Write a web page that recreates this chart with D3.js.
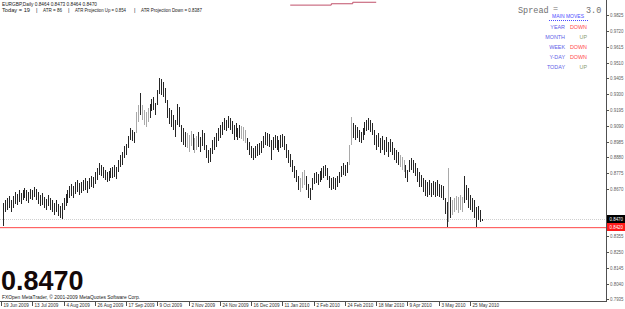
<!DOCTYPE html>
<html>
<head>
<meta charset="utf-8">
<script src="https://cdn.jsdelivr.net/npm/d3@7"></script>
<style>
  body { margin: 0; background: #fff; }
  svg text { font-family: "Liberation Sans", Arial, sans-serif; }
</style>
</head>
<body>
<div id="chart"></div>
<script>
// EURGBP daily
let symbolName = 'EURGBP,Daily'
let lastBar = [0.8464, 0.8473, 0.8464, 0.8470]
let infoParts = ['Today = 19', '|', 'ATR = 86', '|', 'ATR Projection Up = 0.854', '|', 'ATR Projection Down = 0.8387']

let highs = [
  0.8577, 0.8597, 0.8610, 0.8623, 0.8597, 0.8623, 0.8650, 0.8637, 0.8663, 0.8643,
  0.8663, 0.8677, 0.8663, 0.8650, 0.8670, 0.8663, 0.8683, 0.8670, 0.8650, 0.8630,
  0.8643, 0.8617, 0.8603, 0.8630, 0.8610, 0.8597, 0.8577, 0.8597, 0.8570, 0.8557,
  0.8577, 0.8610, 0.8637, 0.8663, 0.8690, 0.8703, 0.8690, 0.8716, 0.8730, 0.8710,
  0.8716,
  0.8730, 0.8743, 0.8723, 0.8743, 0.8756, 0.8750, 0.8783, 0.8809, 0.8843, 0.8829,
  0.8816, 0.8796, 0.8783, 0.8789, 0.8809, 0.8816, 0.8829, 0.8816, 0.8863, 0.8896,
  0.8916, 0.8956, 0.8969, 0.9022, 0.9075, 0.9062, 0.9049, 0.9182, 0.9228, 0.9308,
  0.9228, 0.9195, 0.9182, 0.9208, 0.9235, 0.9268, 0.9281, 0.9241, 0.9328, 0.9408,
  0.9401,
  0.9381, 0.9341, 0.9261, 0.9208, 0.9195, 0.9162, 0.9128, 0.9235, 0.9215, 0.9095,
  0.9075, 0.9049, 0.9042, 0.9029, 0.9055, 0.9035, 0.9009, 0.9022, 0.9049, 0.9016,
  0.9062, 0.9042, 0.8962, 0.8929, 0.8942, 0.8996, 0.9016, 0.9042, 0.9075, 0.9095,
  0.9115, 0.9142, 0.9128, 0.9155, 0.9142, 0.9122, 0.9095, 0.9109, 0.9075, 0.9095,
  0.9089,
  0.9082, 0.9062, 0.9009, 0.8982, 0.8956, 0.8942, 0.8956, 0.8969, 0.8976, 0.8989,
  0.9022, 0.9049, 0.9042, 0.9035, 0.8996, 0.9016, 0.9029, 0.9022, 0.8996, 0.9029,
  0.9035, 0.9022, 0.8969, 0.8929, 0.8902, 0.8863, 0.8823, 0.8796, 0.8756, 0.8743,
  0.8783, 0.8796, 0.8756, 0.8703, 0.8677, 0.8743, 0.8776, 0.8783, 0.8769, 0.8789,
  0.8809,
  0.8823, 0.8829, 0.8809, 0.8756, 0.8743, 0.8750, 0.8743, 0.8756, 0.8783, 0.8823,
  0.8843, 0.8829, 0.8849, 0.8962, 0.9148, 0.9109, 0.9095, 0.9082, 0.9062, 0.9049,
  0.9075, 0.9115, 0.9128, 0.9142, 0.9128, 0.9109, 0.9062, 0.9029, 0.9042, 0.9009,
  0.9022, 0.8996, 0.9016, 0.8982, 0.9002, 0.8982, 0.8942, 0.8929, 0.8916, 0.8896,
  0.8883,
  0.8863, 0.8829, 0.8796, 0.8863, 0.8876, 0.8863, 0.8843, 0.8809, 0.8783, 0.8763,
  0.8743, 0.8730, 0.8716, 0.8730, 0.8710, 0.8723, 0.8716, 0.8730, 0.8703, 0.8697,
  0.8690, 0.8610, 0.8583, 0.8809, 0.8617, 0.8597, 0.8610, 0.8623, 0.8617, 0.8630,
  0.8617, 0.8756, 0.8697, 0.8677, 0.8630,
  0.8610,
  0.8597, 0.8550, 0.8557, 0.8530, 0.8473
]

let lows = [
  0.8424, 0.8517, 0.8530, 0.8544, 0.8517, 0.8544, 0.8570, 0.8564, 0.8583, 0.8570,
  0.8597, 0.8610, 0.8590, 0.8577, 0.8603, 0.8597, 0.8617, 0.8597, 0.8570, 0.8557,
  0.8564, 0.8544, 0.8530, 0.8557, 0.8530, 0.8517, 0.8497, 0.8517, 0.8490, 0.8477,
  0.8470, 0.8530, 0.8557, 0.8577, 0.8610, 0.8623, 0.8610, 0.8637, 0.8650, 0.8630,
  0.8643,
  0.8657, 0.8663, 0.8643, 0.8670, 0.8683, 0.8677, 0.8703, 0.8730, 0.8763, 0.8756,
  0.8743, 0.8730, 0.8716, 0.8723, 0.8743, 0.8743, 0.8750, 0.8736, 0.8783, 0.8816,
  0.8829, 0.8876, 0.8896, 0.8942, 0.8996, 0.8989, 0.8976, 0.9042, 0.9115, 0.9162,
  0.9128, 0.9095, 0.9082, 0.9115, 0.9142, 0.9188, 0.9195, 0.9162, 0.9228, 0.9301,
  0.9295,
  0.9281, 0.9241, 0.9142, 0.9102, 0.9082, 0.9062, 0.9016, 0.9095, 0.9082, 0.8982,
  0.8962, 0.8949, 0.8942, 0.8916, 0.8956, 0.8929, 0.8909, 0.8929, 0.8949, 0.8916,
  0.8956, 0.8929, 0.8876, 0.8843, 0.8849, 0.8902, 0.8929, 0.8949, 0.8989, 0.9009,
  0.9029, 0.9062, 0.9055, 0.9075, 0.9062, 0.9035, 0.8996, 0.9016, 0.8996, 0.9009,
  0.9002,
  0.8989, 0.8976, 0.8929, 0.8896, 0.8876, 0.8863, 0.8876, 0.8889, 0.8896, 0.8909,
  0.8942, 0.8962, 0.8956, 0.8949, 0.8863, 0.8929, 0.8942, 0.8929, 0.8916, 0.8942,
  0.8949, 0.8929, 0.8876, 0.8843, 0.8816, 0.8783, 0.8743, 0.8716, 0.8663, 0.8650,
  0.8677, 0.8697, 0.8663, 0.8610, 0.8597, 0.8663, 0.8703, 0.8710, 0.8697, 0.8716,
  0.8730,
  0.8743, 0.8756, 0.8730, 0.8677, 0.8663, 0.8670, 0.8663, 0.8683, 0.8710, 0.8750,
  0.8763, 0.8756, 0.8776, 0.8829, 0.8962, 0.9009, 0.8996, 0.9009, 0.8982, 0.8976,
  0.8996, 0.9029, 0.9055, 0.9062, 0.9049, 0.9029, 0.8962, 0.8929, 0.8949, 0.8909,
  0.8929, 0.8896, 0.8916, 0.8883, 0.8916, 0.8896, 0.8863, 0.8843, 0.8829, 0.8816,
  0.8796,
  0.8783, 0.8743, 0.8716, 0.8783, 0.8796, 0.8776, 0.8756, 0.8716, 0.8683, 0.8683,
  0.8650, 0.8623, 0.8617, 0.8630, 0.8617, 0.8630, 0.8617, 0.8623, 0.8617, 0.8610,
  0.8597, 0.8504, 0.8417, 0.8450, 0.8477, 0.8497, 0.8517, 0.8530, 0.8510, 0.8530,
  0.8517, 0.8577, 0.8597, 0.8544, 0.8530,
  0.8517,
  0.8477, 0.8417, 0.8464, 0.8450, 0.8464
]

// bars that show up light grey in the screenshot
let lightBars = [68, 69, 71, 72, 73, 74, 94, 95, 96, 98, 99, 122, 123, 124, 152, 153, 154,
  177, 178, 203, 204, 205, 228, 230, 231, 232, 233, 234, 235]

let dateTickIdx = [0, 16, 32, 48, 64, 80, 96, 112, 128, 144, 160, 176, 192, 208, 224, 240]
let dateLabels = ['19 Jun 2009', '13 Jul 2009', '4 Aug 2009', '26 Aug 2009', '17 Sep 2009',
  '9 Oct 2009', '2 Nov 2009', '24 Nov 2009', '16 Dec 2009', '11 Jan 2010', '2 Feb 2010',
  '24 Feb 2010', '18 Mar 2010', '9 Apr 2010', '3 May 2010', '25 May 2010']

let priceTicks = [0.9825, 0.9720, 0.9615, 0.9510, 0.9405, 0.9300, 0.9195, 0.9090, 0.8985,
  0.8880, 0.8775, 0.8670, 0.8355, 0.8250, 0.8145, 0.8040, 0.7935]

let currentPrice = 0.8470
let supportPrice = 0.8420

// reddish step line peeking in at the top edge
let topLineIdx = [147, 168, 168, 179, 179, 191]
let topLinePrice = [0.9893, 0.9893, 0.9902, 0.9902, 0.9912, 0.9912]

let spreadValue = '3.0'
let moveNames = ['YEAR', 'MONTH', 'WEEK', 'Y-DAY', 'TODAY']
let moveDirs = ['DOWN', 'UP', 'DOWN', 'DOWN', 'UP']

let initChart = () => {
  let width = 625
  let height = 309
  let plotRight = 606
  let plotBottom = 301
  let barColor = '#262626'
  let lightColor = '#a9a9a9'
  let axisColor = '#505050'
  let labelColor = '#606060'

  let svg = d3.select('#chart')
    .append('svg')
    .attr('width', width)
    .attr('height', height)

  svg.append('rect')
    .attr('width', width)
    .attr('height', height)
    .attr('fill', '#ffffff')

  let x = d3.scaleLinear()
    .domain([0, highs.length - 1])
    .range([3, 481.7])

  let y = d3.scaleLinear()
    .domain([0.7925, 0.9927])
    .range([plotBottom, 0])

  let bars = highs.map((h, i) => ({ i: i, high: h, low: lows[i], light: lightBars.indexOf(i) >= 0 }))

  // header lines
  svg.append('text')
    .attr('x', 2)
    .attr('y', 6)
    .attr('textLength', 95)
    .attr('lengthAdjust', 'spacingAndGlyphs')
    .style('font-size', '5.4px')
    .style('fill', '#202020')
    .text(symbolName + ' ' + lastBar.map(d => d.toFixed(4)).join(' '))

  let infoX = [2, 36, 43, 68, 75, 134, 141]
  let infoW = [28, 0, 19, 0, 51, 0, 61]
  svg.append('g')
    .selectAll('text')
    .data(infoParts)
    .enter()
    .append('text')
    .attr('x', (d, i) => infoX[i])
    .attr('y', 11.5)
    .attr('textLength', (d, i) => (infoW[i] ? infoW[i] : null))
    .attr('lengthAdjust', 'spacingAndGlyphs')
    .style('font-size', '5.4px')
    .style('fill', '#202020')
    .text(d => d)

  // price lines
  svg.append('line')
    .attr('x1', 0)
    .attr('x2', plotRight)
    .attr('y1', Math.round(y(currentPrice)) + 0.5)
    .attr('y2', Math.round(y(currentPrice)) + 0.5)
    .attr('stroke', '#cfcfcf')
    .attr('stroke-dasharray', '1,1')

  svg.append('rect')
    .attr('x', 0)
    .attr('y', Math.round(y(supportPrice)))
    .attr('width', plotRight)
    .attr('height', 1.2)
    .attr('fill', '#ff6464')

  // top step line
  let stepLine = d3.line()
    .x(d => x(d[0]))
    .y(d => y(d[1]))
  svg.append('path')
    .datum(topLineIdx.map((d, i) => [d, topLinePrice[i]]))
    .attr('d', stepLine)
    .attr('fill', 'none')
    .attr('stroke', '#c0506a')
    .attr('stroke-width', 1)

  // bars
  svg.append('g')
    .attr('class', 'bars')
    .selectAll('line')
    .data(bars)
    .enter()
    .append('line')
    .attr('x1', d => Math.round(x(d.i)) + 0.5)
    .attr('x2', d => Math.round(x(d.i)) + 0.5)
    .attr('y1', d => Math.round(y(d.high)))
    .attr('y2', d => Math.max(Math.round(y(d.low)), Math.round(y(d.high)) + 2))
    .attr('stroke', d => (d.light ? lightColor : barColor))
    .attr('stroke-width', 1)

  // right price axis
  svg.append('line')
    .attr('x1', plotRight + 0.5)
    .attr('x2', plotRight + 0.5)
    .attr('y1', 0)
    .attr('y2', plotBottom + 0.5)
    .attr('stroke', axisColor)

  let pTicks = svg.append('g')
    .selectAll('g')
    .data(priceTicks)
    .enter()
    .append('g')
    .attr('transform', d => 'translate(0,' + (Math.round(y(d)) + 0.5) + ')')
  pTicks.append('line')
    .attr('x1', plotRight)
    .attr('x2', plotRight + 3)
    .attr('stroke', axisColor)
  pTicks.append('text')
    .attr('x', 610)
    .attr('dy', '0.35em')
    .attr('textLength', 13.5)
    .attr('lengthAdjust', 'spacingAndGlyphs')
    .style('font-size', '5.2px')
    .style('fill', labelColor)
    .text(d => d.toFixed(4))

  // price boxes
  let boxes = [
    { p: currentPrice, bg: '#000000' },
    { p: supportPrice, bg: '#ff1a1a' }
  ]
  let boxG = svg.append('g')
    .selectAll('g')
    .data(boxes)
    .enter()
    .append('g')
    .attr('transform', d => 'translate(607,' + Math.round(y(d.p)) + ')')
  boxG.append('rect')
    .attr('x', 0)
    .attr('y', -4)
    .attr('width', 18)
    .attr('height', 8)
    .attr('fill', d => d.bg)
  boxG.append('text')
    .attr('x', 2.5)
    .attr('dy', '0.35em')
    .attr('textLength', 13.5)
    .attr('lengthAdjust', 'spacingAndGlyphs')
    .style('font-size', '5.2px')
    .style('fill', '#ffffff')
    .text(d => d.p.toFixed(4))

  // bottom time axis
  svg.append('line')
    .attr('x1', 0)
    .attr('x2', plotRight + 1)
    .attr('y1', plotBottom + 0.5)
    .attr('y2', plotBottom + 0.5)
    .attr('stroke', axisColor)

  let dTicks = svg.append('g')
    .selectAll('g')
    .data(dateTickIdx)
    .enter()
    .append('g')
    .attr('transform', d => 'translate(' + (Math.round(x(d)) - 1.5) + ',0)')
  dTicks.append('line')
    .attr('y1', plotBottom)
    .attr('y2', plotBottom + 5)
    .attr('stroke', axisColor)
  dTicks.append('text')
    .attr('x', 2)
    .attr('y', 307)
    .style('font-size', '4.6px')
    .style('fill', '#303030')
    .text((d, i) => dateLabels[i])

  // big last price + copyright
  svg.append('text')
    .attr('x', 1)
    .attr('y', 290)
    .style('font-size', '27px')
    .style('font-weight', 'bold')
    .style('fill', '#140808')
    .text(lastBar[3].toFixed(4))

  svg.append('text')
    .attr('x', 2)
    .attr('y', 298.5)
    .attr('textLength', 138)
    .attr('lengthAdjust', 'spacingAndGlyphs')
    .style('font-size', '4.6px')
    .style('fill', '#202020')
    .text('FXOpen MetaTrader, \u00a9 2001-2009 MetaQuotes Software Corp.')

  // spread + main moves panel
  let monoText = (tx, ty, txt) => svg.append('text')
    .attr('x', tx)
    .attr('y', ty)
    .style('font-family', '"Liberation Mono", monospace')
    .style('font-size', '8.5px')
    .style('fill', '#707070')
    .text(txt)
  monoText(518, 13, 'Spread')
  monoText(553, 11, '=')
  monoText(586, 13, spreadValue)

  svg.append('text')
    .attr('x', 568)
    .attr('y', 17.5)
    .attr('text-anchor', 'middle')
    .attr('textLength', 32)
    .attr('lengthAdjust', 'spacingAndGlyphs')
    .style('font-size', '5.2px')
    .style('fill', '#4c4cff')
    .text('MAIN MOVES')
  svg.append('line')
    .attr('x1', 549)
    .attr('x2', 588)
    .attr('y1', 20.5)
    .attr('y2', 20.5)
    .attr('stroke', '#4c4cff')
    .attr('stroke-dasharray', '1,1')

  let rows = svg.append('g')
    .selectAll('g')
    .data(moveNames)
    .enter()
    .append('g')
    .attr('transform', (d, i) => 'translate(0,' + (29 + i * 9.9) + ')')
  rows.append('text')
    .attr('x', 565)
    .attr('text-anchor', 'end')
    .style('font-size', '5.4px')
    .style('fill', '#6060e8')
    .text(d => d)
  rows.append('text')
    .attr('x', 587)
    .attr('text-anchor', 'end')
    .style('font-size', '5.4px')
    .style('fill', (d, i) => (moveDirs[i] === 'DOWN' ? '#ff4a4a' : '#8a9a70'))
    .text((d, i) => moveDirs[i])
}

initChart()
</script>
</body>
</html>
